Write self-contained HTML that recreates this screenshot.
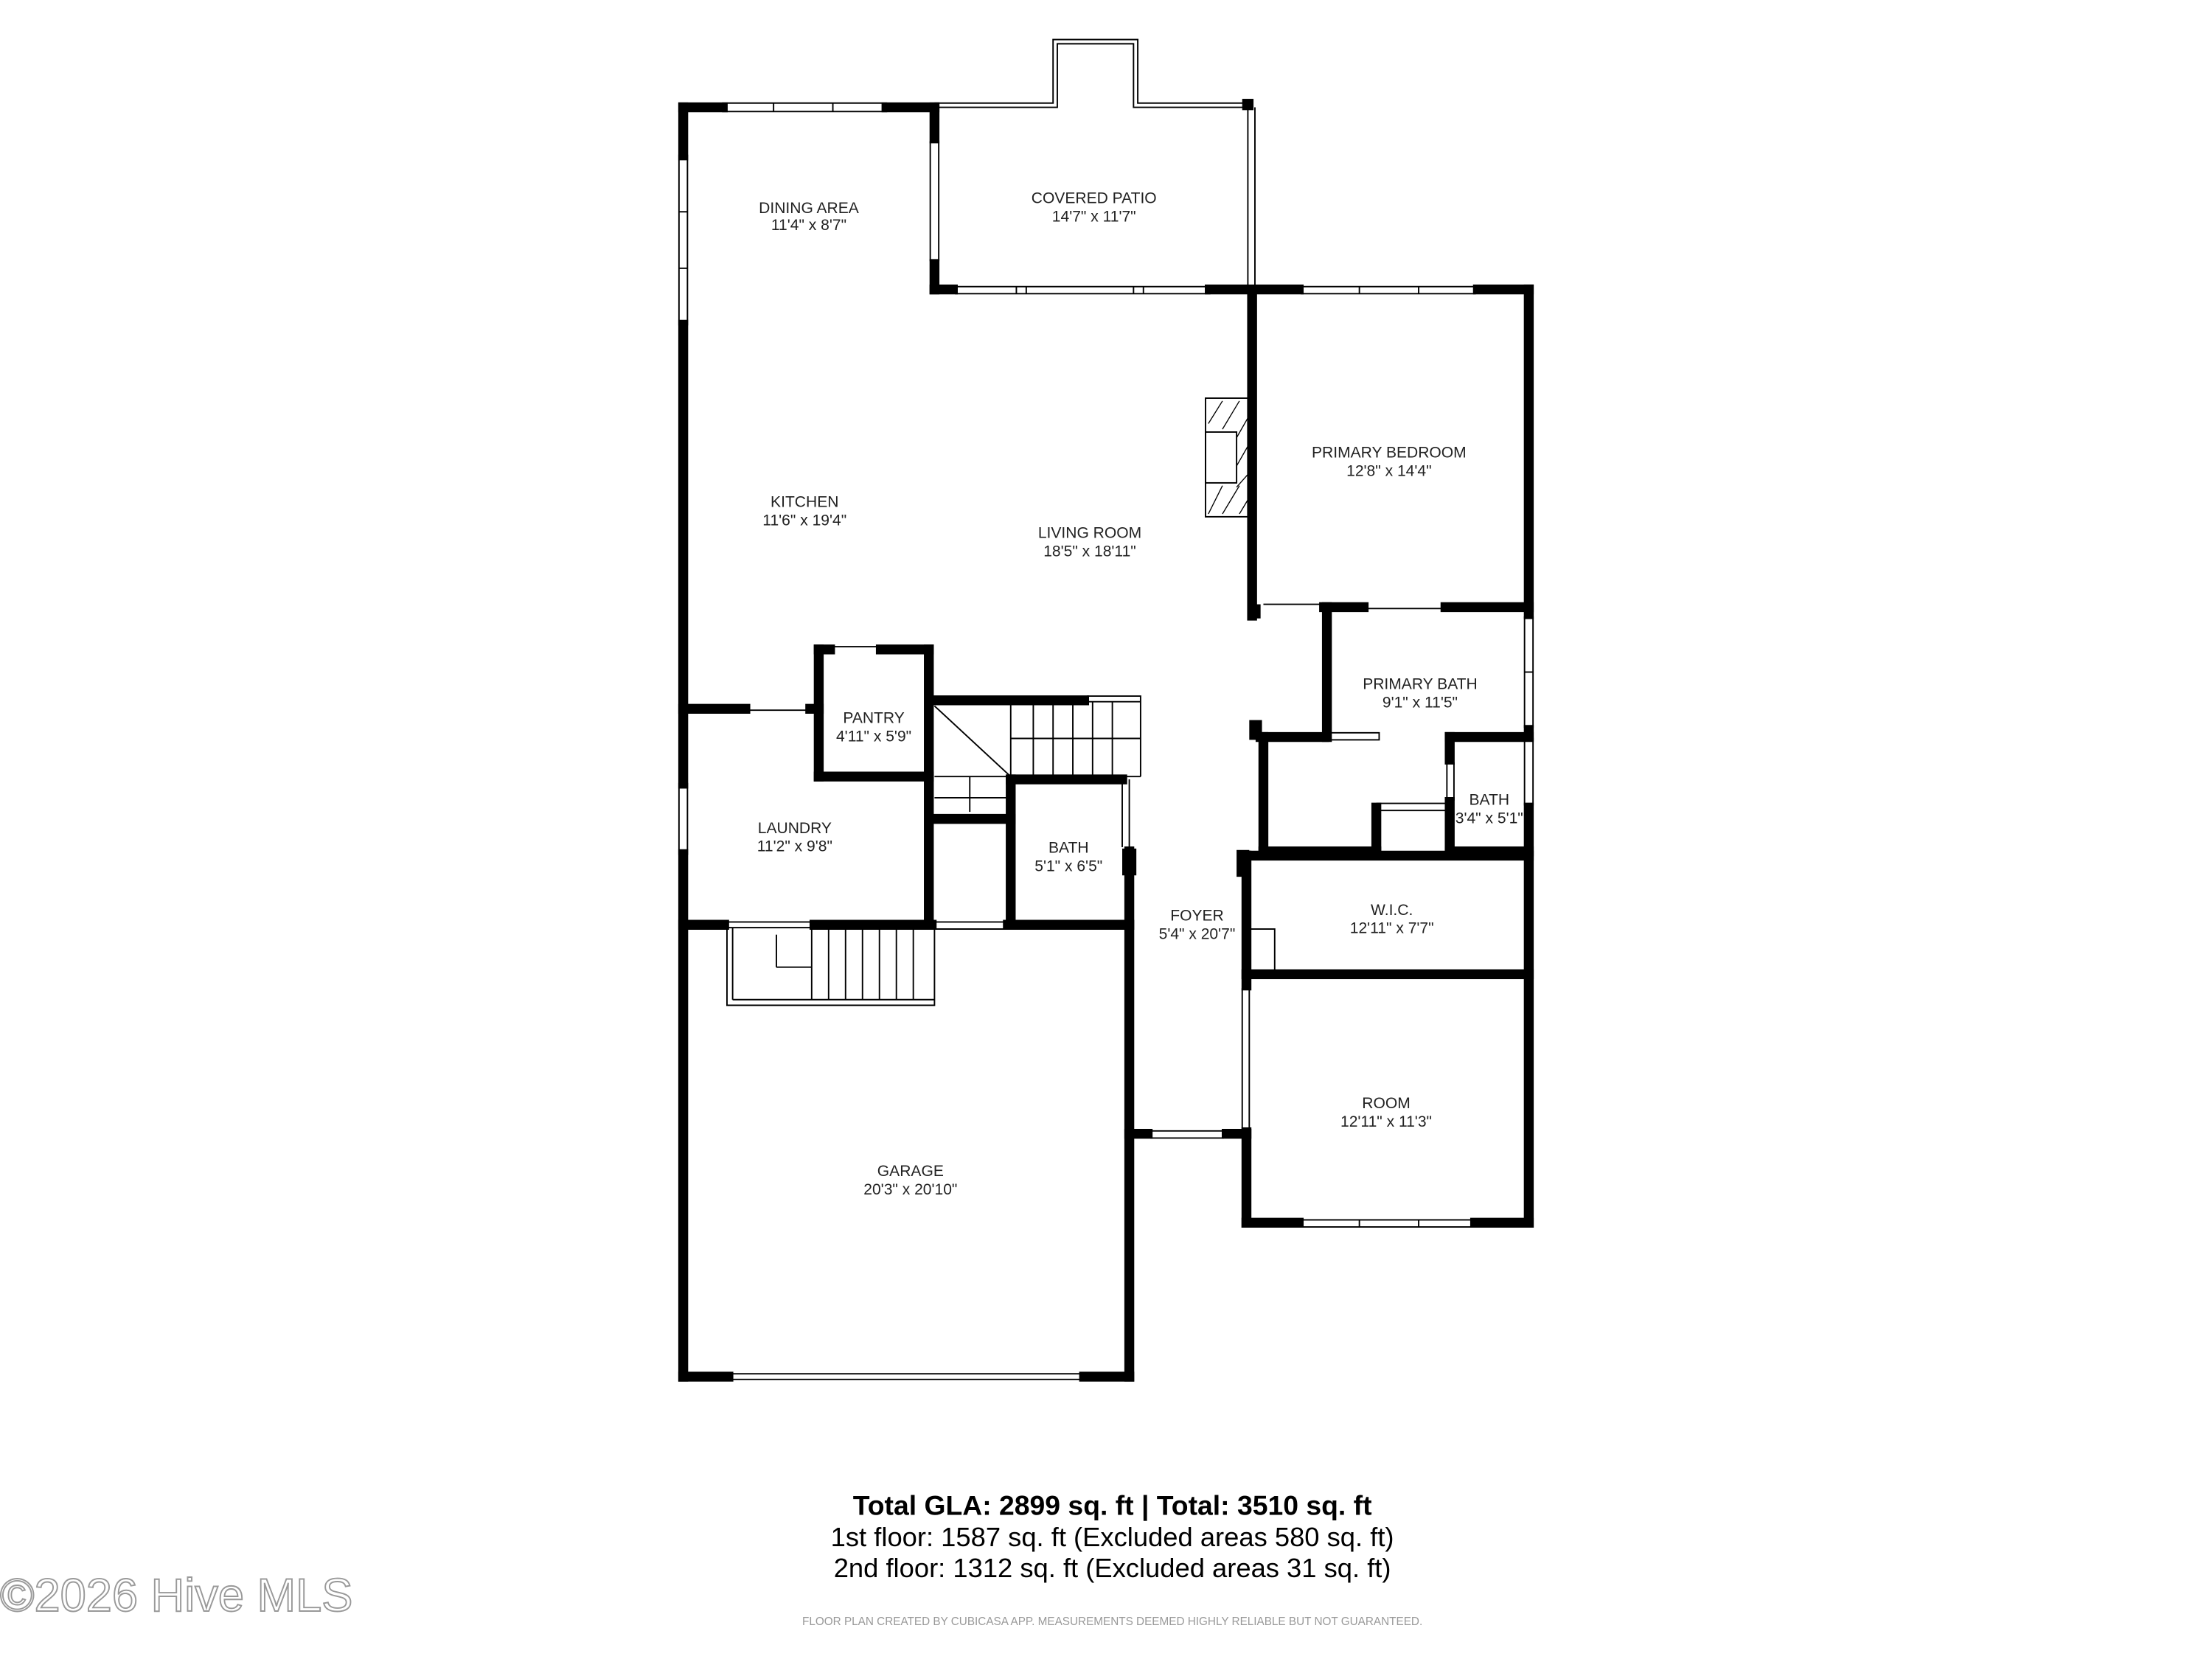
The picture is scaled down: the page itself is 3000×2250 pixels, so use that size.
<!DOCTYPE html>
<html><head><meta charset="utf-8"><style>html,body{margin:0;padding:0;background:#fff}svg{display:block}</style></head>
<body>
<svg width="3000" height="2250" viewBox="0 0 1567 1175" preserveAspectRatio="none" xmlns="http://www.w3.org/2000/svg" font-family="'Liberation Sans', sans-serif">
<rect width="1567" height="1175" fill="#fff"/>
<g fill="none" stroke="#000" stroke-width="1">
<polyline points="662,73 746,73 746,28 806,28 806,73 887,73"/>
<polyline points="665,76 749,76 749,31 803,31 803,76 884,76"/>
<line x1="884" y1="76" x2="884" y2="205"/><line x1="889" y1="76" x2="889" y2="205"/>
<rect x="512" y="73" width="116" height="6"/><line x1="548" y1="73" x2="548" y2="79"/><line x1="590" y1="73" x2="590" y2="79"/>
<line x1="659" y1="100" x2="659" y2="185"/><line x1="665" y1="100" x2="665" y2="185"/>
<rect x="677" y="203" width="180" height="5"/><line x1="720" y1="203" x2="720" y2="208"/><line x1="727" y1="203" x2="727" y2="208"/><line x1="803" y1="203" x2="803" y2="208"/><line x1="810" y1="203" x2="810" y2="208"/>
<rect x="922" y="203" width="123" height="5"/><line x1="963" y1="203" x2="963" y2="208"/><line x1="1005" y1="203" x2="1005" y2="208"/>
<rect x="481" y="110" width="6" height="120"/><line x1="481" y1="150" x2="487" y2="150"/><line x1="481" y1="190" x2="487" y2="190"/>
<rect x="481" y="555" width="6" height="50"/>
<rect x="1080" y="437" width="6" height="78"/><line x1="1080" y1="476" x2="1086" y2="476"/>
<rect x="1080" y="523" width="6" height="47"/>
<rect x="922" y="864" width="121" height="5"/><line x1="963" y1="864" x2="963" y2="869"/><line x1="1005" y1="864" x2="1005" y2="869"/>
<line x1="518" y1="973" x2="766" y2="973"/><line x1="518" y1="977" x2="766" y2="977"/>
<line x1="895" y1="428" x2="938" y2="428"/><line x1="968" y1="431" x2="1022" y2="431"/>
<line x1="530" y1="503" x2="572" y2="503"/><line x1="590" y1="458" x2="622" y2="458"/>
<rect x="940" y="519" width="37" height="5"/>
<line x1="975" y1="569" x2="1027" y2="569"/><line x1="975" y1="574" x2="1027" y2="574"/>
<line x1="1025" y1="540" x2="1025" y2="567"/><line x1="1030" y1="540" x2="1030" y2="567"/>
<line x1="880" y1="700" x2="880" y2="800"/><line x1="885" y1="700" x2="885" y2="800"/>
<line x1="815" y1="801" x2="867" y2="801"/><line x1="815" y1="806" x2="867" y2="806"/>
<line x1="795" y1="552" x2="795" y2="600"/><line x1="800" y1="552" x2="800" y2="600"/>
<line x1="662" y1="653" x2="712" y2="653"/><line x1="662" y1="658" x2="712" y2="658"/>
<line x1="515" y1="653" x2="575" y2="653"/>
<rect x="883" y="658" width="20" height="32"/>
<polyline points="770,493 808,493 808,550"/><line x1="770" y1="497" x2="808" y2="497"/>
<line x1="662" y1="500" x2="716" y2="550"/><line x1="716" y1="523" x2="808" y2="523"/>
<line x1="662" y1="550" x2="808" y2="550"/><line x1="662" y1="565" x2="716" y2="565"/>
<g><line x1="716" y1="497" x2="716" y2="550"/><line x1="732" y1="497" x2="732" y2="550"/><line x1="746" y1="497" x2="746" y2="550"/><line x1="760" y1="497" x2="760" y2="550"/><line x1="774" y1="497" x2="774" y2="550"/><line x1="788" y1="497" x2="788" y2="550"/></g>
<line x1="687" y1="550" x2="687" y2="575"/>
<rect x="515" y="657" width="147" height="55"/><line x1="519" y1="657" x2="519" y2="708"/><line x1="519" y1="708" x2="662" y2="708"/>
<g><line x1="575" y1="657" x2="575" y2="708"/><line x1="587" y1="657" x2="587" y2="708"/><line x1="599" y1="657" x2="599" y2="708"/><line x1="611" y1="657" x2="611" y2="708"/><line x1="623" y1="657" x2="623" y2="708"/><line x1="635" y1="657" x2="635" y2="708"/><line x1="647" y1="657" x2="647" y2="708"/></g>
<line x1="550" y1="662" x2="550" y2="685"/><line x1="550" y1="685" x2="575" y2="685"/>
<rect x="854" y="282" width="30" height="84"/><rect x="854" y="306" width="22" height="36"/>
<g stroke-width="0.7"><line x1="856" y1="300" x2="866" y2="284"/><line x1="866" y1="304" x2="878" y2="284"/><line x1="876" y1="310" x2="884" y2="296"/><line x1="876" y1="330" x2="884" y2="316"/><line x1="876" y1="345" x2="884" y2="336"/><line x1="856" y1="364" x2="866" y2="344"/><line x1="866" y1="364" x2="878" y2="344"/><line x1="878" y1="364" x2="884" y2="354"/></g>
</g>
<g stroke="#000" stroke-width="7" fill="none" stroke-linecap="square">
<line x1="484" y1="76" x2="484" y2="110"/><line x1="484" y1="230" x2="484" y2="555"/><line x1="484" y1="605" x2="484" y2="975"/>
<line x1="484" y1="76" x2="512" y2="76"/><line x1="628" y1="76" x2="662" y2="76"/>
<line x1="662" y1="76" x2="662" y2="98"/><line x1="662" y1="187" x2="662" y2="205"/>
<line x1="662" y1="205" x2="675" y2="205"/><line x1="857" y1="205" x2="920" y2="205"/><line x1="1047" y1="205" x2="1083" y2="205"/>
<line x1="1083" y1="205" x2="1083" y2="435"/><line x1="1083" y1="517" x2="1083" y2="521"/><line x1="1083" y1="572" x2="1083" y2="866"/>
<line x1="887" y1="208" x2="887" y2="436"/>
<line x1="938" y1="430" x2="966" y2="430"/><line x1="1024" y1="430" x2="1083" y2="430"/>
<line x1="940" y1="430" x2="940" y2="522"/>
<line x1="893" y1="522" x2="938" y2="522"/>
<line x1="895" y1="522" x2="895" y2="603"/>
<line x1="895" y1="603" x2="975" y2="603"/><line x1="975" y1="572" x2="975" y2="603"/>
<line x1="1027" y1="522" x2="1083" y2="522"/><line x1="1027" y1="522" x2="1027" y2="538"/><line x1="1027" y1="568" x2="1027" y2="603"/><line x1="1027" y1="603" x2="1083" y2="603"/>
<line x1="883" y1="606" x2="1083" y2="606"/><line x1="883" y1="606" x2="883" y2="698"/>
<line x1="883" y1="690" x2="1083" y2="690"/>
<line x1="883" y1="802" x2="883" y2="866"/><line x1="883" y1="866" x2="920" y2="866"/><line x1="1045" y1="866" x2="1083" y2="866"/>
<line x1="800" y1="803" x2="813" y2="803"/><line x1="869" y1="803" x2="883" y2="803"/>
<line x1="800" y1="603" x2="800" y2="975"/>
<line x1="484" y1="975" x2="516" y2="975"/><line x1="768" y1="975" x2="800" y2="975"/>
<line x1="484" y1="655" x2="513" y2="655"/><line x1="577" y1="655" x2="660" y2="655"/><line x1="714" y1="655" x2="800" y2="655"/>
<line x1="716" y1="552" x2="716" y2="655"/><line x1="716" y1="552" x2="795" y2="552"/>
<line x1="658" y1="460" x2="658" y2="655"/><line x1="662" y1="496" x2="768" y2="496"/>
<line x1="662" y1="580" x2="716" y2="580"/>
<line x1="580" y1="460" x2="580" y2="550"/><line x1="580" y1="460" x2="588" y2="460"/><line x1="624" y1="460" x2="658" y2="460"/><line x1="580" y1="550" x2="658" y2="550"/>
<line x1="484" y1="502" x2="528" y2="502"/><line x1="574" y1="502" x2="580" y2="502"/>
</g>
<g fill="#000">
<rect x="884" y="428" width="9" height="10"/><rect x="885" y="510" width="9" height="14"/><rect x="795" y="601" width="10" height="19"/><rect x="876" y="602" width="9" height="19"/><rect x="880" y="70" width="8" height="8"/>
</g>
<g font-size="11" text-anchor="middle" fill="#222">
<text x="573" y="151">DINING AREA</text><text x="573" y="163">11'4" x 8'7"</text>
<text x="775" y="144">COVERED PATIO</text><text x="775" y="157">14'7" x 11'7"</text>
<text x="570" y="359">KITCHEN</text><text x="570" y="372">11'6" x 19'4"</text>
<text x="772" y="381">LIVING ROOM</text><text x="772" y="394">18'5" x 18'11"</text>
<text x="984" y="324">PRIMARY BEDROOM</text><text x="984" y="337">12'8" x 14'4"</text>
<text x="1006" y="488">PRIMARY BATH</text><text x="1006" y="501">9'1" x 11'5"</text>
<text x="1055" y="570">BATH</text><text x="1055" y="583">3'4" x 5'1"</text>
<text x="619" y="512">PANTRY</text><text x="619" y="525">4'11" x 5'9"</text>
<text x="563" y="590">LAUNDRY</text><text x="563" y="603">11'2" x 9'8"</text>
<text x="757" y="604">BATH</text><text x="757" y="617">5'1" x 6'5"</text>
<text x="848" y="652">FOYER</text><text x="848" y="665">5'4" x 20'7"</text>
<text x="986" y="648">W.I.C.</text><text x="986" y="661">12'11" x 7'7"</text>
<text x="982" y="785">ROOM</text><text x="982" y="798">12'11" x 11'3"</text>
<text x="645" y="833">GARAGE</text><text x="645" y="846">20'3" x 20'10"</text>
</g>
<g text-anchor="middle" fill="#000">
<text x="788" y="1073" font-size="19.5" font-weight="bold">Total GLA: 2899 sq. ft | Total: 3510 sq. ft</text>
<text x="788" y="1095" font-size="19">1st floor: 1587 sq. ft (Excluded areas 580 sq. ft)</text>
<text x="788" y="1117" font-size="19">2nd floor: 1312 sq. ft (Excluded areas 31 sq. ft)</text>
<text x="788" y="1151" font-size="8" fill="#999">FLOOR PLAN CREATED BY CUBICASA APP. MEASUREMENTS DEEMED HIGHLY RELIABLE BUT NOT GUARANTEED.</text>
</g>
<text x="0" y="1141" font-size="33" fill="#fff" stroke="#999" stroke-width="1">©2026 Hive MLS</text>
</svg>
</body></html>
